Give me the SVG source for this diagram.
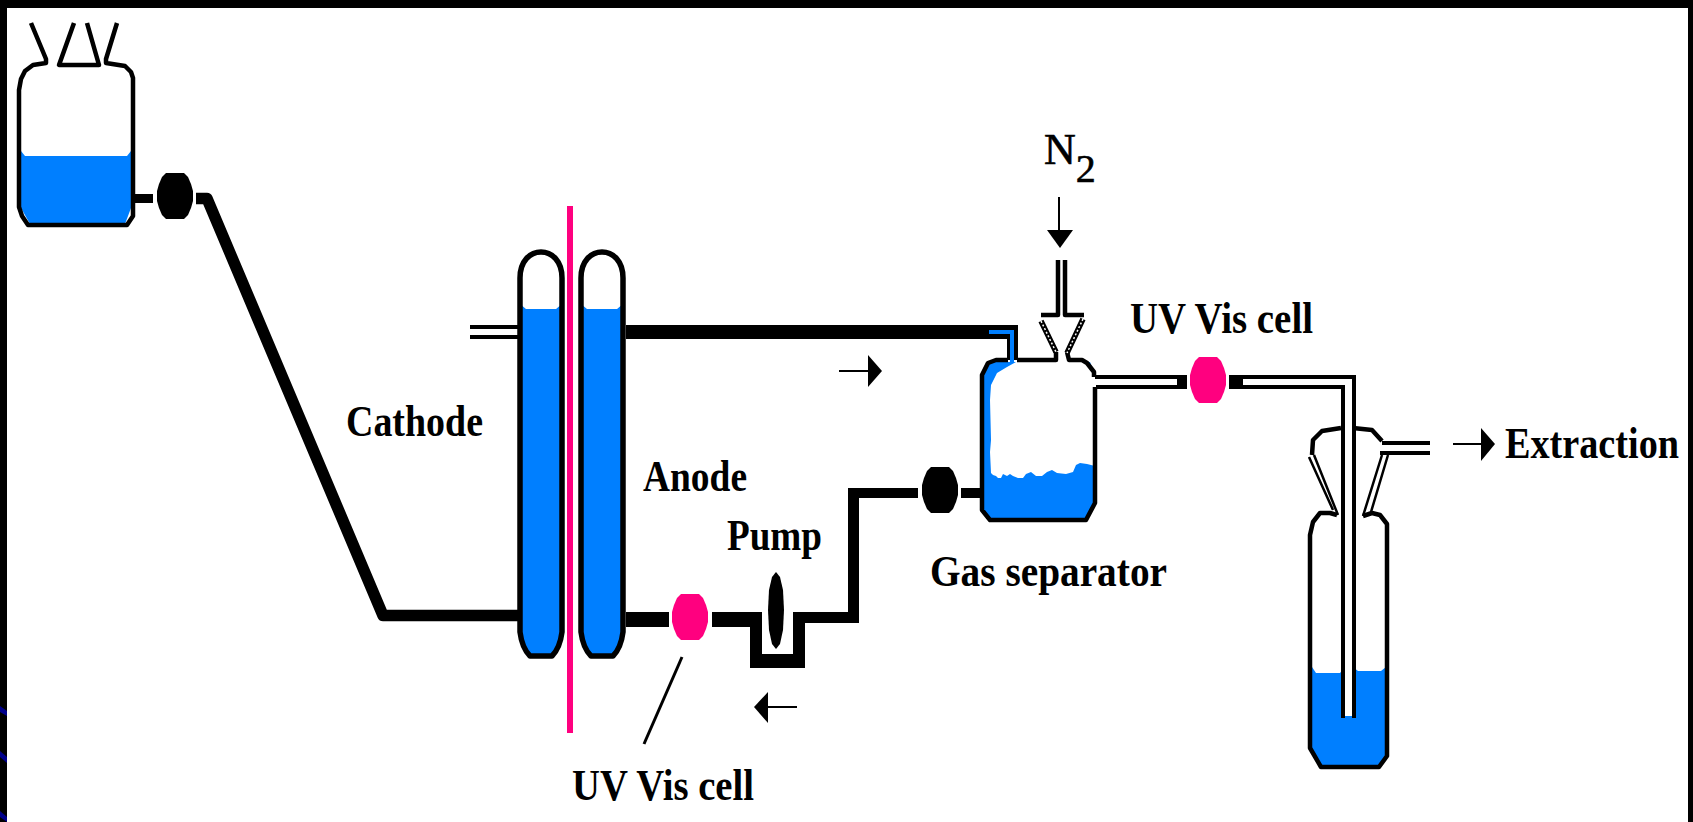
<svg xmlns="http://www.w3.org/2000/svg" width="1693" height="822" viewBox="0 0 1693 822">
<style>
.w{fill:#007fff;stroke:none}
.o{fill:none;stroke:#000;stroke-width:4.5;stroke-linejoin:round}
.c{fill:none;stroke:#000;stroke-width:5.500;stroke-linejoin:round}
.t{fill:none;stroke:#000;stroke-width:4}
.n{fill:none;stroke:#000;stroke-width:2.500}
.k{fill:#000;stroke:none}
.p{fill:#ff007f;stroke:none}
.a{fill:none;stroke:#000;stroke-width:2}
.hd{fill:#000;stroke:none}
text{font-family:"Liberation Serif","Times New Roman",serif;font-size:38px;font-weight:bold;fill:#000}
.hx{stroke:#fff;stroke-width:1.5;stroke-dasharray:2 2;fill:none}
.hb{stroke:#000;stroke-width:5.500;fill:none}
</style>
<defs>
<polygon id="oval" points="-9,-23 9,-23 13,-19 16,-12 18,-5 18,5 16,12 13,19 9,23 -9,23 -13,19 -16,12 -18,5 -18,-5 -16,-12 -13,-19"/>
</defs>
<rect id="frame" width="1693" height="822" fill="#000"/>
<rect id="paper" x="7" y="8" width="1681" height="814" fill="#fff"/>
<g id="edge-marks" fill="#00008b">
<polygon points="0,706 7,711 7,716 0,712"/>
<polygon points="0,751 7,757 7,763 0,757"/>
<polygon points="0,811 7,817 7,822 0,817"/>
</g>

<g id="connectors">
<path class="k" d="M134,194H153V203H134Z"/>
<path d="M196,198.500H207L383,615.500H518" fill="none" stroke="#000" stroke-width="11.500" stroke-linejoin="round"/>
<path class="k" d="M626,325H1018V360H1007V339H626Z"/>
<path class="w" d="M989,330H1014V362H1010V334H989Z"/>
<path class="k" d="M626,612H669V627H626Z"/>
<path class="k" d="M712,612H762V654H793V612H848V488H918V498H859V623H805V668H750V627H712Z"/>
<path class="k" d="M961,488H982V498H961Z"/>
<path class="t" d="M470,327H518M470,337H518"/>
<path class="t" d="M1094,377H1178M1096,387H1178"/>
<path class="k" d="M1177,375H1187V389H1177Z"/>
<path class="k" d="M1229,375H1243V389H1229Z"/>
<path class="t" d="M1243,377H1354V718M1243,387H1343V718"/>
<path class="t" d="M1382,443H1430M1380,453H1430"/>
<path d="M682,657L644,744" fill="none" stroke="#000" stroke-width="3"/>
</g>

<g id="reservoir">
<path class="w" d="M21,151L25,156H127L131,151V208L125,224H30L21,208Z"/>
<path class="o" d="M31,23L46,59V63L33,65L25,71L21,79L19,90V207L22,216L28,225H127L133,216V78L131,72L125,66L106,63V59L117,23"/>
<path class="o" d="M74,23L59,65H99L87,23"/>
</g>
<g id="pump-feed"><use href="#oval" x="175" y="196"/></g>

<g id="cathode-cell">
<path class="w" d="M520,304L526,309H556L562,304V636L553,656H529L520,636Z"/>
<path class="c" d="M520,278C520,261 530,252 541,252C552,252 562,261 562,278V632Q560,648 552,656H530Q522,648 520,632Z"/>
</g>
<g id="anode-cell">
<path class="w" d="M581,304L587,309H617L623,304V636L614,656H590L581,636Z"/>
<path class="c" d="M581,278C581,261 591,252 602,252C613,252 623,261 623,278V632Q621,648 613,656H591Q583,648 581,632Z"/>
</g>
<rect id="membrane" x="567" y="206" width="6" height="527" fill="#ff007f"/>

<g id="uv-cell-1"><use href="#oval" class="p" x="690" y="617"/></g>
<g id="pump"><polygon class="k" points="776,572 780,577 783,590 784,610 783,630 780,644 776,649 772,644 769,630 768,610 769,590 772,577"/></g>
<g id="pump-return"><use href="#oval" x="940" y="490"/></g>

<g id="gas-separator">
<path class="w" d="M983,372L989,362H1090L1094,372V505L1085,519H990L983,508Z"/>
<polygon fill="#fff" points="1016,362 1007,367 997,373 991,385 990,400 991,440 990,452 991,473 993,475 996,476 998,478 1001,478 1003,474 1007,476 1010,474 1013,476 1018,478 1023,478 1026,474 1031,472 1036,476 1042,476 1047,472 1052,470 1057,473 1066,474 1073,472 1076,465 1080,463 1087,464 1095,466 1095,372 1085,361"/>
<path class="o" d="M1017,360H1056V352M1067,352L1069,360H1082L1087,363L1094,372V377M1095,387V503L1086,520H990L982,510V375L988,363L996,360H1008"/>
<path class="o" d="M1041,315H1058V260M1084,315H1065V260"/>
<path class="hb" d="M1041,321L1056,352M1083,319L1067,353"/>
<path class="hx" d="M1041,321L1056,352M1083,319L1067,353"/>
</g>
<g id="uv-cell-2"><use href="#oval" class="p" x="1208" y="380"/></g>

<g id="collector">
<path class="w" d="M1312,667L1316,673H1340L1344,668V716H1353V667L1358,671H1381L1386,667V755L1379,766H1321L1312,750Z"/>
<path class="o" d="M1337,515L1330,513H1320L1313,522L1310,535V748L1321,767H1379L1387,756V524L1380,515L1372,513L1363,516"/>
<path class="o" d="M1341,428L1322,431L1313,440L1312,455M1353,428L1372,430L1382,441"/>
<path class="n" d="M1309,457L1333,510M1314,455L1338,515M1382,455L1363,516M1388,455L1371,512"/>
<path fill="#fff" d="M1345,679H1352V716H1345Z"/>
<path class="t" d="M1343,640V718M1354,640V718"/>
</g>

<g id="arrows">
<path class="a" d="M839,371H870"/><polygon class="hd" points="868,355 882,371 868,387"/>
<path class="a" d="M797,707H768"/><polygon class="hd" points="768,692 754,707 768,723"/>
<path class="a" d="M1059,197V232"/><polygon class="hd" points="1047,230 1073,230 1060,248"/>
<path class="a" d="M1453,444H1482"/><polygon class="hd" points="1481,428 1495,444 1481,461"/>
</g>

<g id="labels">
<text transform="translate(346,436) scale(1,1.16)" textLength="137" lengthAdjust="spacingAndGlyphs">Cathode</text>
<text transform="translate(643,491) scale(1,1.16)" textLength="104" lengthAdjust="spacingAndGlyphs">Anode</text>
<text transform="translate(727,550) scale(1,1.16)" textLength="95" lengthAdjust="spacingAndGlyphs">Pump</text>
<text transform="translate(930,586) scale(1,1.16)" textLength="237" lengthAdjust="spacingAndGlyphs">Gas separator</text>
<text transform="translate(572,800) scale(1,1.16)" textLength="182" lengthAdjust="spacingAndGlyphs">UV Vis cell</text>
<text transform="translate(1130,333) scale(1,1.16)" textLength="183" lengthAdjust="spacingAndGlyphs">UV Vis cell</text>
<text transform="translate(1505,458) scale(1,1.16)" textLength="174" lengthAdjust="spacingAndGlyphs">Extraction</text>
<text x="1044" y="164" style="font-size:44px;font-weight:normal;stroke:#000;stroke-width:.6">N<tspan dy="18" style="font-size:40px">2</tspan></text>
</g>
</svg>
